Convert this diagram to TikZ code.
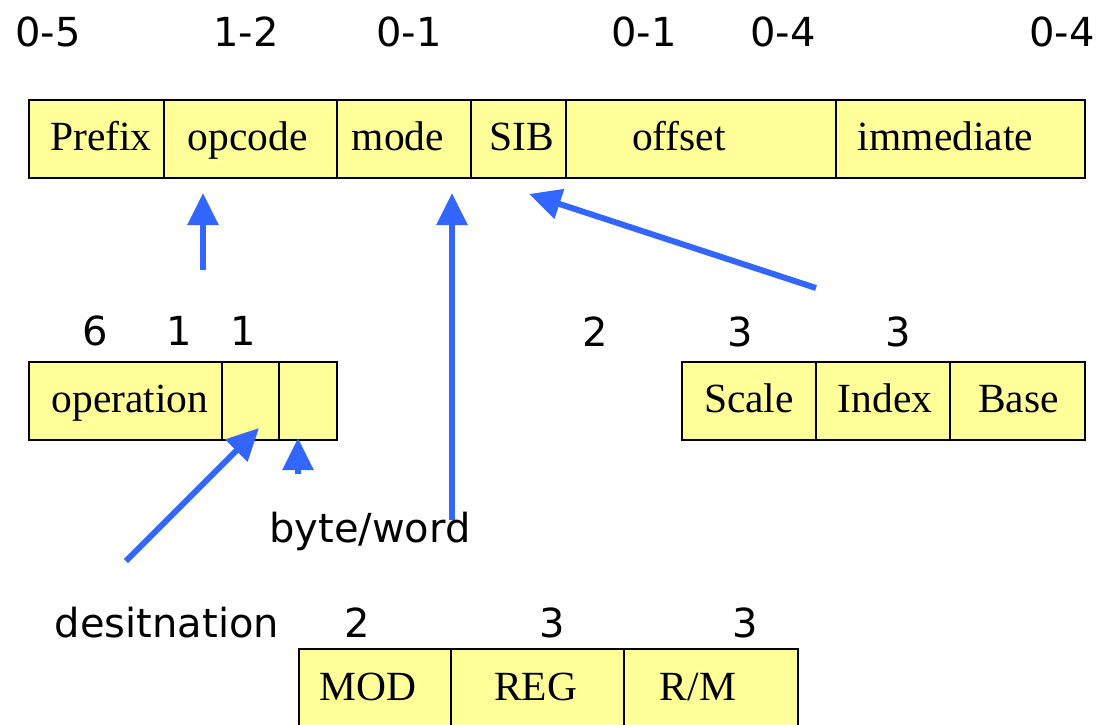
\documentclass[tikz,border=0pt]{standalone}
\usepackage{fontspec}
\setmainfont{Liberation Serif}
\newfontfamily\handfont{DejaVu Sans}
\usetikzlibrary{arrows.meta}
\definecolor{cellfill}{HTML}{FFFF99}
\definecolor{arrowblue}{HTML}{3366FF}
% shift a cell's text sideways by half of the first argument
\newcommand\nudge[2]{\hspace*{#1}#2}

\begin{document}
\begin{tikzpicture}[x=1pt,y=-1pt,
  cell/.style={draw=black, line width=1.8pt, fill=cellfill, rectangle,
    anchor=north west, inner sep=0pt, outer sep=0pt, minimum height=78pt,
    text height=28pt, text depth=6pt, font=\fontsize{41.5}{41.5}\selectfont},
  bits/.style={anchor=base, inner sep=0pt, font=\handfont\fontsize{40}{40}\selectfont},
  pointer/.style={draw=arrowblue, line width=6pt, -{Triangle[length=32pt,width=30pt]}}
]
\path[use as bounding box] (0,0) rectangle (1109,725);
\clip (0,0) rectangle (1109,725);

% instruction layout
\node[cell, minimum width=135pt] (prefix) at (29,100)  {\nudge{9pt}{Prefix}};
\node[cell, minimum width=173pt] (opcode) at (164,100) {\nudge{-6pt}{opcode}};
\node[cell, minimum width=134pt] (mode)   at (337,100) {\nudge{-12pt}{mode}};
\node[cell, minimum width=95pt]  (sib)    at (471,100) {\nudge{6pt}{SIB}};
\node[cell, minimum width=270pt] (offset) at (566,100) {\nudge{-44pt}{offset}};
\node[cell, minimum width=249pt] (imm)    at (836,100) {\nudge{-30pt}{immediate}};

% opcode byte
\node[cell, minimum width=193pt] (operation) at (29,362)  {\nudge{9pt}{operation}};
\node[cell, minimum width=57pt]  (dbit)      at (222,362) {};
\node[cell, minimum width=58pt]  (wbit)      at (279,362) {};

% SIB byte
\node[cell, minimum width=134pt] (scale) at (682,362) {Scale};
\node[cell, minimum width=134pt] (index) at (816,362) {\nudge{4pt}{Index}};
\node[cell, minimum width=135pt] (base)  at (950,362) {\nudge{2pt}{Base}};

% mode byte
\node[cell, minimum width=152pt, minimum height=80pt] (mod) at (299,649) {\nudge{-14pt}{MOD}};
\node[cell, minimum width=173pt, minimum height=80pt] (reg) at (451,649) {\nudge{-4pt}{REG}};
\node[cell, minimum width=174pt, minimum height=80pt] (rm)  at (624,649) {\nudge{-26pt}{R/M}};

% field sizes
\node[bits] (n1) at (48,47)   {0-5};
\node[bits] (n2) at (246,47)  {1-2};
\node[bits] (n3) at (409,47)  {0-1};
\node[bits] (n4) at (644,47)  {0-1};
\node[bits] (n5) at (783,47)  {0-4};
\node[bits] (n6) at (1062,47) {0-4};

\node[bits] (o1) at (95,345)  {6};
\node[bits] (o2) at (179,345) {1};
\node[bits] (o3) at (243,345) {1};

\node[bits] (s1) at (595,346) {2};
\node[bits] (s2) at (740,346) {3};
\node[bits] (s3) at (898,346) {3};

\node[bits] (dest) at (167,637) {desitnation};
\node[bits] (m1) at (357,637) {2};
\node[bits] (m2) at (552,637) {3};
\node[bits] (m3) at (745,637) {3};

\node[bits] (bw) at (370,542) {byte/word};

% pointers
\coordinate (opTail) at (203,270);   \coordinate (opTip) at (203,193);
\coordinate (mdTail) at (452,520);   \coordinate (mdTip) at (452,193);
\coordinate (sbTail) at (816,288);   \coordinate (sbTip) at (529,194);
\coordinate (dsTail) at (126,561);   \coordinate (dsTip) at (259,428);
\coordinate (bwTail) at (298,474);   \coordinate (bwTip) at (298,438);

\draw[pointer] (opTail) -- (opTip);
\draw[pointer] (mdTail) -- (mdTip);
\draw[pointer] (sbTail) -- (sbTip);
\draw[pointer] (dsTail) -- (dsTip);
\draw[pointer] (bwTail) -- (bwTip);
\end{tikzpicture}
\end{document}
